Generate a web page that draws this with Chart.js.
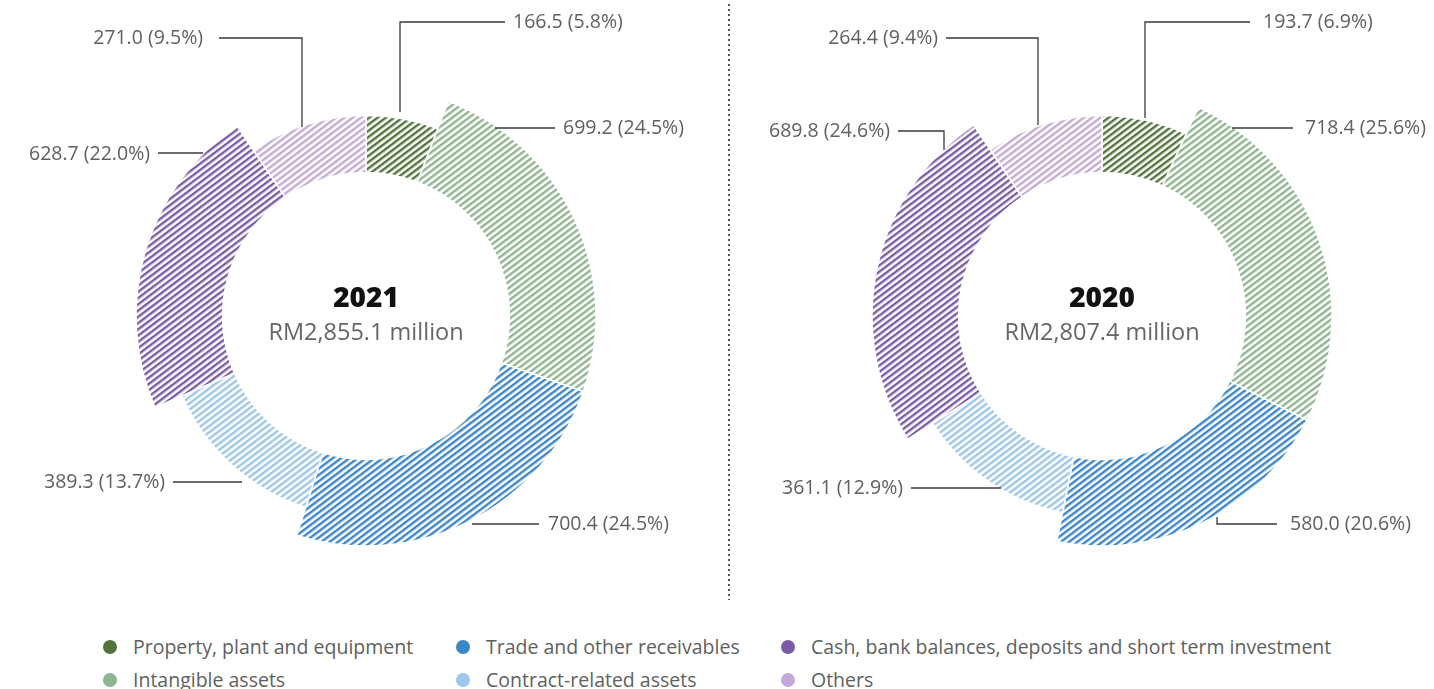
<!DOCTYPE html>
<html><head><meta charset="utf-8">
<script src="https://cdn.jsdelivr.net/npm/chart.js@4.4.0/dist/chart.umd.min.js"></script>
<style>
html,body{margin:0;padding:0;background:#fff;}
#wrap{position:relative;width:1434px;height:689px;overflow:hidden;font-family:'Open Sans',sans-serif;}
canvas{position:absolute;left:0;top:0;}
#divider{position:absolute;left:728px;top:4px;width:2px;height:596px;background:repeating-linear-gradient(to bottom,#555 0 2px,transparent 2px 5px);}
.leg{position:absolute;font-size:19.5px;color:#5f5f5f;white-space:nowrap;line-height:24px;transform:translateY(-12px);}
.leg .dot{position:absolute;left:-30px;top:5px;width:14px;height:14px;border-radius:50%;}
</style></head><body>
<div id="wrap">
<canvas id="c0" width="1434" height="620"></canvas>
<canvas id="c1" width="1434" height="620"></canvas>
<div id="divider"></div>
<div id="legend"></div>
</div>
<script>
const categories = ['Property, plant and equipment','Intangible assets','Trade and other receivables','Contract-related assets','Cash, bank balances, deposits and short term investment','Others'];
const years = ['2021','2020'];
const totals = ['RM2,855.1 million','RM2,807.4 million'];
const values2021 = [166.5, 699.2, 700.4, 389.3, 628.7, 271.0];
const values2020 = [193.7, 718.4, 580.0, 361.1, 689.8, 264.4];
const percent2021 = [5.8, 24.5, 24.5, 13.7, 22.0, 9.5];
const percent2020 = [6.9, 25.6, 20.6, 12.9, 24.6, 9.4];

// ---- styles / layout ----
const colors = ['#52743a','#8fb48f','#3b86c7','#9dc6ea','#7b5ba8','#c5aad7'];
const thickness = [0.66, 1, 1, 0.66, 1, 0.66];
const centers = [[366,316],[1102,316]];
const OUTER = 230, INNER = 143, W = 1434, H = 620;
const labelLayouts = [
  [
    {pts:[[34,-204],[34,-294],[139,-294]], tx:147, ty:-294, align:'left'},
    {pts:[[129,-188],[189,-188]], tx:197, ty:-188, align:'left'},
    {pts:[[106,208],[173,208]], tx:182, ty:208, align:'left'},
    {pts:[[-124,166],[-193,166]], tx:-201, ty:166, align:'right'},
    {pts:[[-163,-163],[-208,-163]], tx:-216, ty:-162, align:'right'},
    {pts:[[-64,-189],[-64,-278],[-147,-278]], tx:-163, ty:-278, align:'right'}
  ],
  [
    {pts:[[43,-198],[43,-294],[148,-294]], tx:161, ty:-294, align:'left'},
    {pts:[[130,-188],[191,-188]], tx:203, ty:-188, align:'left'},
    {pts:[[115,201],[115,208],[175,208]], tx:188, ty:208, align:'left'},
    {pts:[[-101,172],[-191,172]], tx:-199, ty:172, align:'right'},
    {pts:[[-158,-166],[-158,-185],[-204,-185]], tx:-212, ty:-185, align:'right'},
    {pts:[[-64,-191],[-64,-278],[-156,-278]], tx:-164, ty:-278, align:'right'}
  ]
];
const legendX = [133, 486, 811], legendY = [647, 680];

function hatch(color){
  const t = document.createElement('canvas'); t.width = 5; t.height = 5;
  const g = t.getContext('2d'); g.fillStyle = color; g.fillRect(0,0,5,2.4);
  const p = g.createPattern(t,'repeat');
  p.setTransform(new DOMMatrix().rotateSelf(-37));
  return p;
}

const ringPlugin = {
  id:'ring',
  afterDatasetsUpdate(chart){
    chart.getDatasetMeta(0).data.forEach((arc,i)=>{
      arc.outerRadius = arc.innerRadius + (arc.outerRadius - arc.innerRadius) * thickness[i];
    });
  }
};

function makeLabelPlugin(idx, values, pcts){
  return {
    id:'labels'+idx,
    afterDraw(chart){
      const ctx = chart.ctx;
      const arc0 = chart.getDatasetMeta(0).data[0];
      const cx = arc0.x, cy = arc0.y;
      ctx.save();
      ctx.strokeStyle = '#3a3a3a'; ctx.lineWidth = 1.3;
      ctx.font = '19.5px "Open Sans"'; ctx.fillStyle = '#606060'; ctx.textBaseline = 'middle';
      labelLayouts[idx].forEach((l,i)=>{
        ctx.beginPath();
        l.pts.forEach((p,j)=>{ const x = cx+p[0], y = cy+p[1]; j ? ctx.lineTo(x,y) : ctx.moveTo(x,y); });
        ctx.stroke();
        ctx.textAlign = l.align;
        ctx.fillText(values[i].toFixed(1)+' ('+pcts[i].toFixed(1)+'%)', cx+l.tx, cy+l.ty);
      });
      ctx.textAlign = 'center';
      ctx.fillStyle = '#111'; ctx.font = '800 28px "Open Sans"';
      ctx.fillText(years[idx], cx, cy-17);
      ctx.fillStyle = '#666'; ctx.font = '23.5px "Open Sans"';
      ctx.fillText(totals[idx], cx, cy+17);
      ctx.restore();
    }
  };
}

function makeChart(idx, values, pcts){
  const [cx, cy] = centers[idx];
  new Chart(document.getElementById('c'+idx), {
    type:'doughnut',
    data:{labels:categories, datasets:[{data:values, backgroundColor:colors.map(hatch), borderColor:'#ffffff', borderWidth:1.5}]},
    options:{
      responsive:false, animation:false, events:[],
      radius:OUTER, cutout:INNER, rotation:0,
      layout:{padding:{left:cx-OUTER, right:W-(cx+OUTER), top:cy-OUTER, bottom:H-(cy+OUTER)}},
      plugins:{legend:{display:false}, tooltip:{enabled:false}}
    },
    plugins:[ringPlugin, makeLabelPlugin(idx, values, pcts)]
  });
}
makeChart(0, values2021, percent2021);
makeChart(1, values2020, percent2020);

const leg = document.getElementById('legend');
categories.forEach((c,i)=>{
  const d = document.createElement('div');
  d.className = 'leg';
  d.style.left = legendX[Math.floor(i/2)]+'px';
  d.style.top = legendY[i%2]+'px';
  d.innerHTML = '<span class="dot" style="background:'+colors[i]+'"></span>';
  d.appendChild(document.createTextNode(c));
  leg.appendChild(d);
});
</script>
</body></html>
